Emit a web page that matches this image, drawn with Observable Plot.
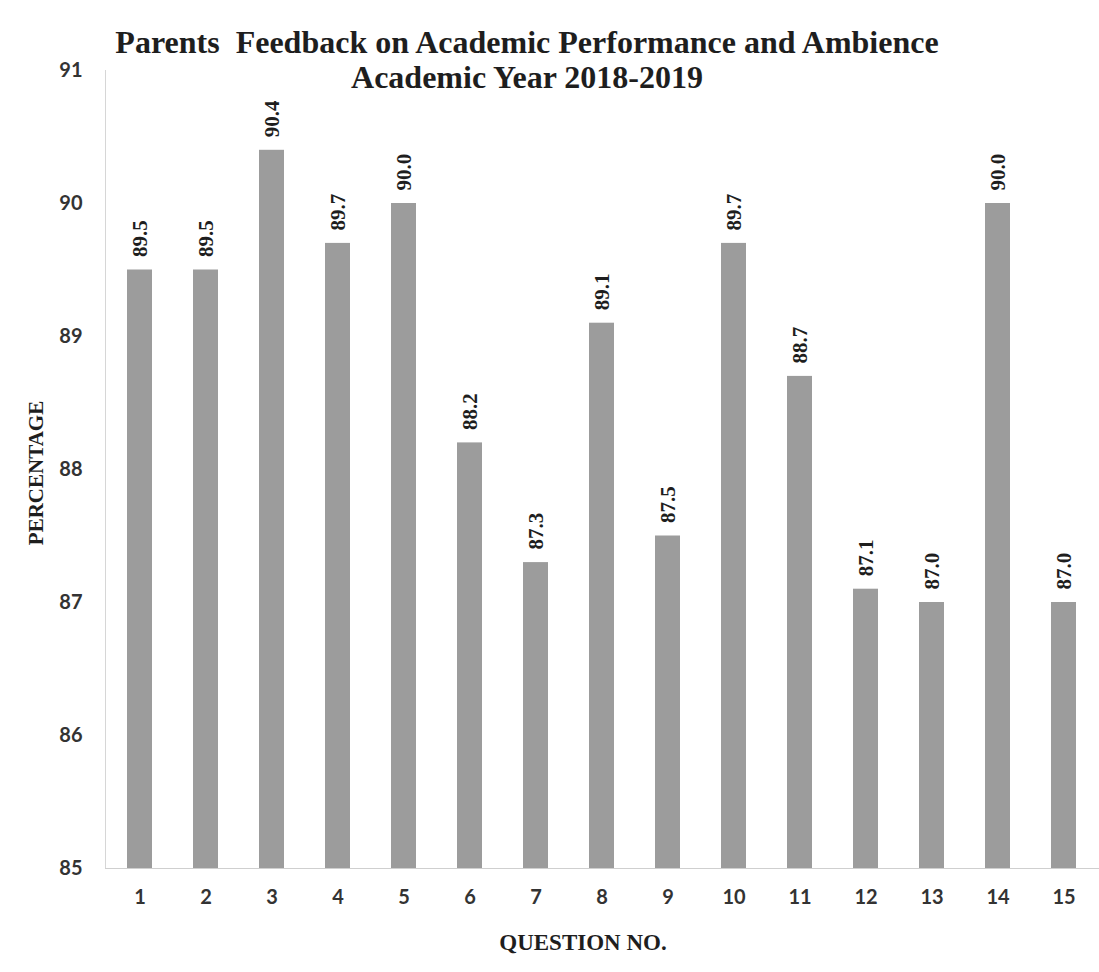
<!DOCTYPE html>
<html>
<head>
<meta charset="utf-8">
<script src="https://cdn.jsdelivr.net/npm/d3@7"></script>
<script src="https://cdn.jsdelivr.net/npm/@observablehq/plot@0.6"></script>
<style>
  body { margin: 0; background: #fff; }
  #wrap { position: relative; width: 1099px; height: 972px; background: #fff; }
  .ttl { position: absolute; left: 0; width: 1054px; text-align: center;
         font-family: "Liberation Serif", "Times New Roman", serif; font-weight: bold;
         font-size: 32px; line-height: 32px; color: #1e1e1e; white-space: pre; }
  .axt { position: absolute; font-family: "Liberation Serif", "Times New Roman", serif;
         font-weight: bold; color: #1e1e1e; white-space: nowrap; }
  #chart svg { display: block; }
</style>
</head>
<body>
<div id="wrap">
  <div id="chart"></div>
  <div class="ttl" style="top:26px;">Parents  Feedback on Academic Performance and Ambience</div>
  <div class="ttl" style="top:61px;">Academic Year 2018-2019</div>
  <div class="axt" style="font-size:21px;left:36px;top:473px;transform:translate(-50%,-50%) rotate(-90deg);">PERCENTAGE</div>
  <div class="axt" style="font-size:23px;left:583px;top:943px;transform:translate(-50%,-50%);">QUESTION NO.</div>
</div>
<script>
const questions = [1, 2, 3, 4, 5, 6, 7, 8, 9, 10, 11, 12, 13, 14, 15];
const percentages = [89.5, 89.5, 90.4, 89.7, 90.0, 88.2, 87.3, 89.1, 87.5, 89.7, 88.7, 87.1, 87.0, 90.0, 87.0];
const yTicks = [85, 86, 87, 88, 89, 90, 91];

const data = questions.map((q, i) => ({question: q, value: percentages[i]}));

const chart = Plot.plot({
  width: 1099,
  height: 972,
  marginTop: 70,
  marginBottom: 104,
  marginLeft: 105,
  marginRight: 0,
  style: {background: "#fff", overflow: "visible"},
  x: {type: "band", domain: questions, paddingInner: 0.62, paddingOuter: 0.29},
  y: {domain: [85, 91]},
  marks: [
    Plot.frame({anchor: "left", stroke: "#d6d6d6"}),
    Plot.barY(data, {x: "question", y1: 85, y2: "value", fill: "#9c9c9c"}),
    Plot.ruleY([85], {stroke: "#cfcfcf", strokeWidth: 1.2}),
    Plot.text(data, {
      x: "question", y: "value", text: d => d.value.toFixed(1),
      rotate: -90, textAnchor: "start", lineAnchor: "middle", dy: -13,
      fontFamily: "'Liberation Serif', 'Times New Roman', serif", fontWeight: "bold",
      fontSize: 21, fill: "#1e1e1e"
    }),
    Plot.axisY({
      ticks: yTicks, tickFormat: d => String(d), tickSize: 0, tickPadding: 23, label: null,
      fontFamily: "Lato, 'Open Sans', sans-serif", fontSize: 20, fontWeight: "bold", color: "#333"
    }),
    Plot.axisX({
      tickSize: 0, tickPadding: 21, label: null,
      fontFamily: "Lato, 'Open Sans', sans-serif", fontSize: 20, fontWeight: "bold", color: "#333"
    })
  ]
});
document.getElementById("chart").appendChild(chart);
</script>
</body>
</html>
